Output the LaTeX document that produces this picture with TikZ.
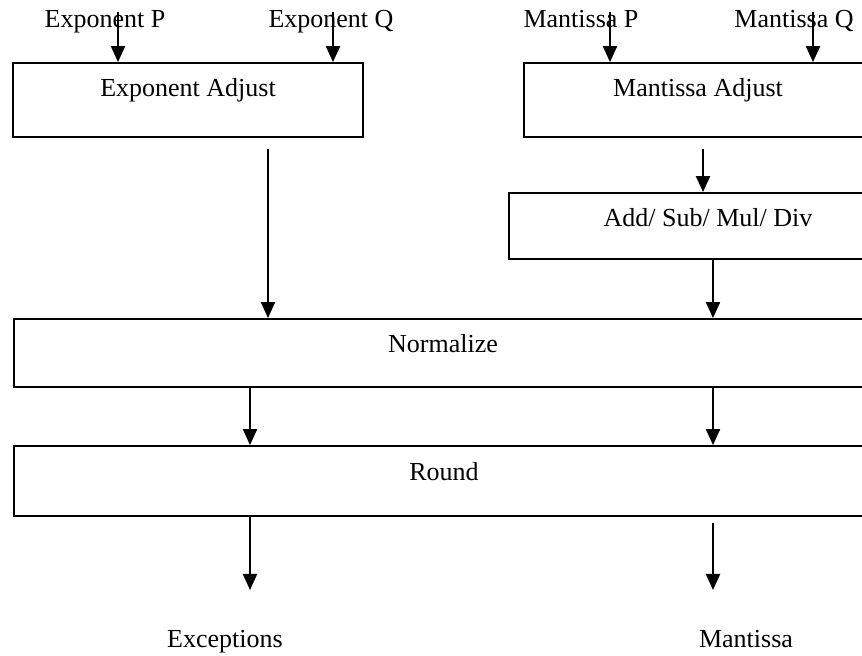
\documentclass[tikz,border=0pt]{standalone}
\usepackage{fontspec}
\setmainfont{Liberation Serif}
\usetikzlibrary{arrows.meta, positioning, calc}

\begin{document}
\begin{tikzpicture}[x=0.5pt, y=-0.5pt, line width=1pt]
	\clip (0,0) rectangle (862,656);
	\tikzset {->, >={Triangle[length=8pt, width=7pt]}, font=\fontsize{13}{15}\selectfont, unit/.style={draw, line width=0.9pt, inner sep=0pt}, txt/.style={anchor=base, inner sep=0pt} }

	% adjust stage
	\node[unit, minimum width=175pt, minimum height=37pt] (expadj) at (188,100) {};
	\node[txt] (expadjtext) at (188,97) {Exponent Adjust};
	\node[unit, minimum width=173pt, minimum height=37pt] (manadj) at (697,100) {};
	\node[txt] (manadjtext) at (698,97) {Mantissa Adjust};
	\node[unit, minimum width=199pt, minimum height=33pt] (arith) at (708,226) {};
	\node[txt] (arithtext) at (708,227) {Add/ Sub/ Mul/ Div};

	% normalize and round
	\node[unit, minimum width=430pt, minimum height=34pt] (norm) at (444,353) {};
	\node[txt] (normtext) at (443,353) {Normalize};
	\node[unit, minimum width=430pt, minimum height=35pt] (round) at (444,481) {};
	\node[txt] (roundtext) at (444,481) {Round};

	% inputs and outputs
	\node[txt] (expp) at (105,28) {Exponent P};
	\node[txt] (expq) at (331,28) {Exponent Q};
	\node[txt] (manp) at (581,28) {Mantissa P};
	\node[txt] (manq) at (794,28) {Mantissa Q};
	\node[txt] (exceptions) at (225,648) {Exceptions};
	\node[txt] (mantissa) at (746,648) {Mantissa};

	\coordinate (ep) at (118,12);
	\coordinate (eq) at (333,12);
	\coordinate (mp) at (610,12);
	\coordinate (mq) at (813,12);
	\coordinate (eo) at ($(expadj.south)+(80,11)$);
	\coordinate (mo) at ($(manadj.south)+(6,11)$);
	\coordinate (ao) at (713,0);
	\coordinate (nl) at (250,0);
	\coordinate (exc) at (250,590);
	\coordinate (man) at (713,590);

	\draw (ep) -- (ep |- expadj.north);
	\draw (eq) -- (eq |- expadj.north);
	\draw (mp) -- (mp |- manadj.north);
	\draw (mq) -- (mq |- manadj.north);
	\draw (mo) -- (mo |- arith.north);
	\draw (eo) -- (eo |- norm.north);
	\draw (ao |- arith.south) -- (ao |- norm.north);
	\draw (nl |- norm.south) -- (nl |- round.north);
	\draw (ao |- norm.south) -- (ao |- round.north);
	\draw (exc |- round.south) -- (exc);
	\draw ($(man |- round.south)+(0,6)$) -- (man);
\end{tikzpicture}
\end{document}
